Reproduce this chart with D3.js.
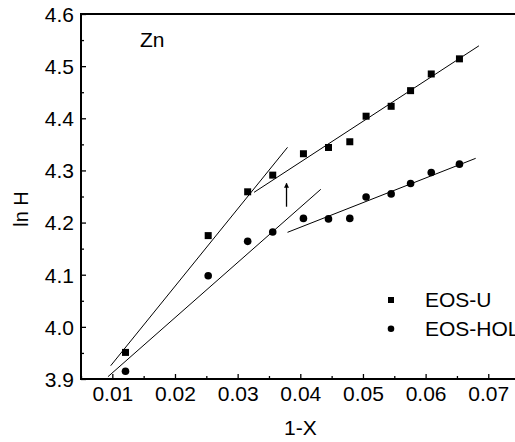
<!DOCTYPE html>
<html>
<head>
<meta charset="utf-8">
<script src="https://d3js.org/d3.v7.min.js"></script>
<style>
  html, body { margin: 0; padding: 0; background: #fff; overflow: hidden; }
  text { font-family: "Liberation Sans", Arial, Helvetica, sans-serif; fill: #000; }
</style>
</head>
<body>
<script>
// ---- data ----
const xValues = [0.0121, 0.0253, 0.0316, 0.0356, 0.0405, 0.0445, 0.0479, 0.0505, 0.0545, 0.0576, 0.0609, 0.0654];
const eosU   = [3.951, 4.175, 4.259, 4.291, 4.332, 4.344, 4.355, 4.404, 4.423, 4.453, 4.485, 4.514];
const eosHol = [3.915, 4.098, 4.164, 4.182, 4.208, 4.207, 4.208, 4.249, 4.255, 4.275, 4.296, 4.312];
const fitLines = [
  [[0.00974, 3.9255], [0.03796, 4.3443]],
  [[0.03262, 4.258],  [0.06851, 4.539]],
  [[0.0093, 3.9044],  [0.04327, 4.2638]],
  [[0.03796, 4.1813], [0.06799, 4.3232]]
];
const arrowPts = [[0.0378, 4.2304], [0.0378, 4.2753]];
const xTicks = [0.01, 0.02, 0.03, 0.04, 0.05, 0.06, 0.07];
const xMinor = [0.005, 0.015, 0.025, 0.035, 0.045, 0.055, 0.065, 0.075];
const yTicks = [3.9, 4.0, 4.1, 4.2, 4.3, 4.4, 4.5, 4.6];
const yMinor = [3.95, 4.05, 4.15, 4.25, 4.35, 4.45, 4.55];
const seriesNames = ["EOS-U", "EOS-HOL"];

// ---- layout ----
const W = 515, H = 442;
const L = 81, R = 519.6, T = 14, B = 379;
const FS = 21;

const svg = d3.select("body").append("svg").attr("width", W).attr("height", H);

const x = d3.scaleLinear().domain([0.005, 0.075]).range([L, R]);
const y = d3.scaleLinear().domain([3.9, 4.6]).range([B, T]);

// frame
svg.append("rect").attr("x", L).attr("y", T).attr("width", R - L).attr("height", B - T)
  .attr("fill", "none").attr("stroke", "#000").attr("stroke-width", 2);

// x axis
const gx = svg.append("g").attr("transform", `translate(0,${B})`)
  .call(d3.axisBottom(x).tickValues(xTicks).tickFormat(d3.format(".2f")).tickSizeInner(-5).tickSizeOuter(0));
gx.select(".domain").remove();
gx.selectAll("line").attr("stroke", "#000").attr("stroke-width", 1.3);
gx.selectAll("text").attr("font-size", FS).attr("y", 7).attr("dy", "0.72em");
const gxm = svg.append("g").attr("transform", `translate(0,${B})`)
  .call(d3.axisBottom(x).tickValues(xMinor).tickFormat("").tickSizeInner(-3).tickSizeOuter(0));
gxm.select(".domain").remove();
gxm.selectAll("line").attr("stroke", "#000").attr("stroke-width", 1.3);

// y axis
const gy = svg.append("g").attr("transform", `translate(${L},0)`)
  .call(d3.axisLeft(y).tickValues(yTicks).tickFormat(d3.format(".1f")).tickSizeInner(-5).tickSizeOuter(0));
gy.select(".domain").remove();
gy.selectAll("line").attr("stroke", "#000").attr("stroke-width", 1.3);
gy.selectAll("text").attr("font-size", FS).attr("x", -7).attr("dy", "0.35em");
const gym = svg.append("g").attr("transform", `translate(${L},0)`)
  .call(d3.axisLeft(y).tickValues(yMinor).tickFormat("").tickSizeInner(-3).tickSizeOuter(0));
gym.select(".domain").remove();
gym.selectAll("line").attr("stroke", "#000").attr("stroke-width", 1.3);

// axis titles
svg.append("text").attr("x", (L + R) / 2).attr("y", 435).attr("text-anchor", "middle")
  .attr("font-size", FS).text("1-X");
svg.append("text").attr("transform", `translate(28,209) rotate(-90)`)
  .attr("text-anchor", "middle").attr("font-size", 20).text("ln H");

// Zn label
svg.append("text").attr("x", 140).attr("y", 46.7).attr("font-size", FS).text("Zn");

// fit lines
const plot = svg.append("g");
plot.selectAll("line.fit").data(fitLines).join("line").attr("class", "fit")
  .attr("x1", d => x(d[0][0])).attr("y1", d => y(d[0][1]))
  .attr("x2", d => x(d[1][0])).attr("y2", d => y(d[1][1]))
  .attr("stroke", "#000").attr("stroke-width", 1);

// arrow
svg.append("defs").append("marker").attr("id", "ah").attr("viewBox", "0 0 10 10")
  .attr("refX", 9).attr("refY", 5).attr("markerWidth", 5).attr("markerHeight", 7)
  .attr("markerUnits", "userSpaceOnUse").attr("orient", "auto")
  .append("path").attr("d", "M0,0 L10,5 L0,10 Z").attr("fill", "#000");
plot.append("line")
  .attr("x1", x(arrowPts[0][0])).attr("y1", y(arrowPts[0][1]))
  .attr("x2", x(arrowPts[1][0])).attr("y2", y(arrowPts[1][1]))
  .attr("stroke", "#000").attr("stroke-width", 1.3).attr("marker-end", "url(#ah)");

// markers
const sq = 7;
plot.selectAll("rect.u").data(xValues).join("rect").attr("class", "u")
  .attr("x", (d) => x(d) - sq / 2).attr("y", (d, i) => y(eosU[i]) - sq / 2)
  .attr("width", sq).attr("height", sq).attr("fill", "#000");
plot.selectAll("circle.h").data(xValues).join("circle").attr("class", "h")
  .attr("cx", d => x(d)).attr("cy", (d, i) => y(eosHol[i])).attr("r", 3.8).attr("fill", "#000");

// legend
const lg = svg.append("g");
lg.append("rect").attr("x", 391 - 3).attr("y", 300 - 3).attr("width", 6).attr("height", 6).attr("fill", "#000");
lg.append("circle").attr("cx", 391).attr("cy", 328.7).attr("r", 3.3).attr("fill", "#000");
lg.append("text").attr("x", 425).attr("y", 307.3).attr("font-size", FS).text(seriesNames[0]);
lg.append("text").attr("x", 425).attr("y", 336).attr("font-size", FS).text(seriesNames[1]);
</script>
</body>
</html>
